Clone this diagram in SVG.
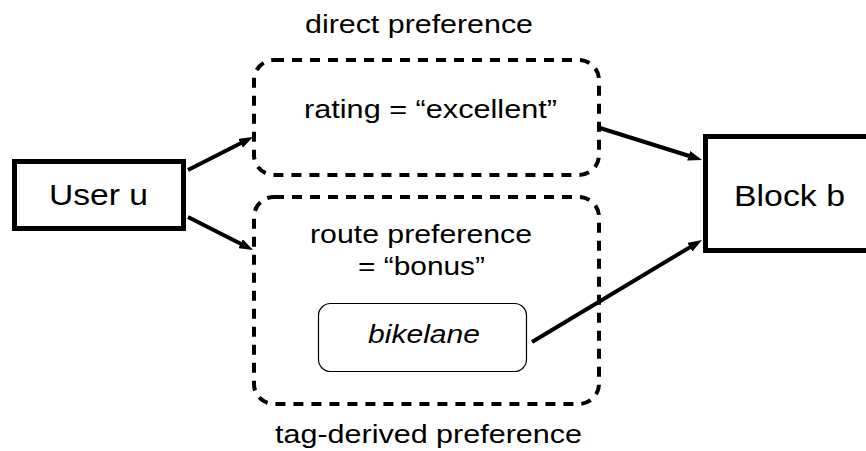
<svg xmlns="http://www.w3.org/2000/svg" width="866" height="451" viewBox="0 0 866 451">
<style>
text{font-family:"Liberation Sans",Arial,sans-serif;fill:#000}
.lbl{font-size:26px}
.big{font-size:30px}
.solid{fill:#fff;stroke:#000;stroke-width:5}
.dash{fill:none;stroke:#000;stroke-width:4;stroke-dasharray:10 8}
.tag{fill:#fff;stroke:#000;stroke-width:1.2}
.conn{stroke:#000;stroke-width:4;fill:none}
</style>
<defs>
<marker id="arr" markerUnits="userSpaceOnUse" markerWidth="14" markerHeight="10" refX="4" refY="5" orient="auto">
<path d="M0,0 L14,5 L0,10 z" fill="#000"/>
</marker>
</defs>
<rect width="866" height="451" fill="#fff"/>
<g id="direct-preference">
<rect class="dash" x="254" y="60" width="345" height="115" rx="20"/>
<text class="lbl" x="305" y="33" textLength="228" lengthAdjust="spacingAndGlyphs">direct preference</text>
<text class="lbl" x="304" y="118" textLength="253" lengthAdjust="spacingAndGlyphs">rating = “excellent”</text>
</g>
<g id="tag-derived-preference">
<rect class="dash" x="254" y="197" width="345" height="207" rx="20"/>
<text class="lbl" x="310" y="243" textLength="222" lengthAdjust="spacingAndGlyphs">route preference</text>
<text class="lbl" x="358" y="275" textLength="127" lengthAdjust="spacingAndGlyphs">= “bonus”</text>
<text class="lbl" x="275" y="443" textLength="307" lengthAdjust="spacingAndGlyphs">tag-derived preference</text>
</g>
<g id="bikelane">
<rect class="tag" x="318.5" y="303.5" width="208" height="68" rx="12"/>
<text class="lbl" x="368" y="343" font-style="italic" textLength="112" lengthAdjust="spacingAndGlyphs">bikelane</text>
</g>
<g id="user-u">
<rect class="solid" x="14.5" y="161.5" width="169" height="67"/>
<text class="big" x="49" y="205" textLength="99" lengthAdjust="spacingAndGlyphs">User u</text>
</g>
<g id="block-b">
<rect class="solid" x="705.5" y="136.5" width="200" height="114"/>
<text class="big" x="734" y="206" textLength="111" lengthAdjust="spacingAndGlyphs">Block b</text>
</g>
<g id="connectors">
<line class="conn" x1="188" y1="170" x2="244.1" y2="141.5" marker-end="url(#arr)"/>
<line class="conn" x1="188" y1="217" x2="244.1" y2="245.5" marker-end="url(#arr)"/>
<line class="conn" x1="600" y1="128" x2="692.5" y2="157" marker-end="url(#arr)"/>
<line class="conn" x1="532" y1="342" x2="693.4" y2="245.1" marker-end="url(#arr)"/>
</g>
</svg>
